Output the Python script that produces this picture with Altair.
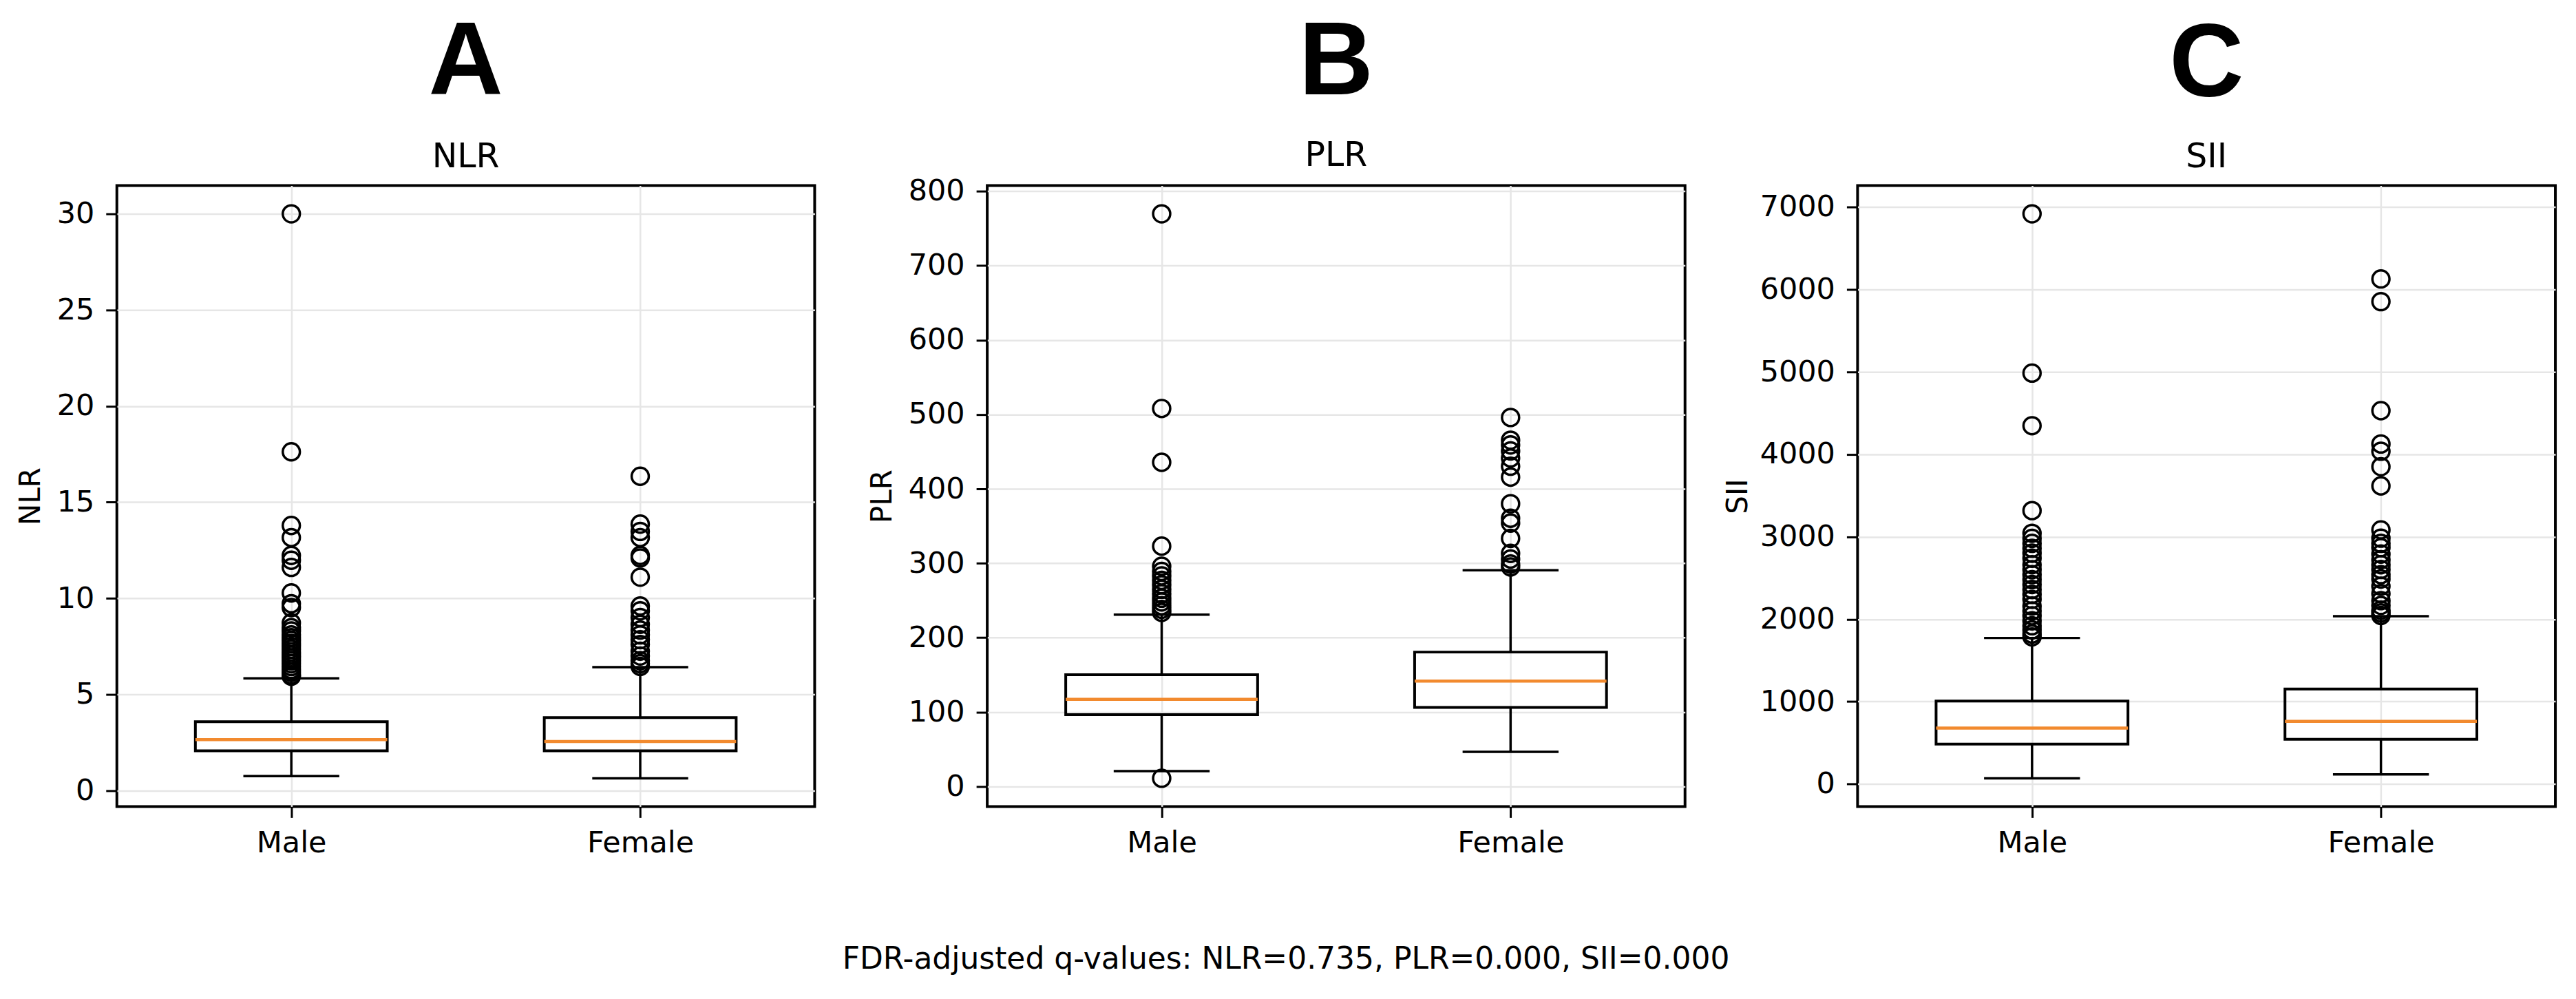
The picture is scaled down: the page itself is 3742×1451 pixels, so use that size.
import altair as alt
import pandas as pd

groups = ["Male", "Female"]
positions = [1, 2]

# ---- NLR ----
nlr_lo = [0.75, 0.64]
nlr_q1 = [2.07, 2.07]
nlr_med = [2.65, 2.55]
nlr_q3 = [3.58, 3.80]
nlr_hi = [5.84, 6.42]
nlr_out_male = [30.0, 17.62, 13.79, 13.16, 12.23, 11.98, 11.61, 10.28, 9.72, 9.52,
                8.72, 8.47, 8.3, 8.1, 7.95, 7.8, 7.65, 7.5, 7.35, 7.2, 7.05, 6.9,
                6.75, 6.6, 6.45, 6.3, 6.15, 6.02, 5.95]
nlr_out_female = [16.35, 13.86, 13.48, 13.16, 12.23, 12.1, 11.1, 9.6, 9.35, 9.0,
                  8.65, 8.35, 8.1, 7.85, 7.6, 7.25, 7.0, 6.75, 6.6, 6.46]
nlr_ticks = [0, 5, 10, 15, 20, 25, 30]

# ---- PLR ----
plr_lo = [20.7, 46.6]
plr_q1 = [96.4, 106.2]
plr_med = [117.1, 141.7]
plr_q3 = [150.1, 180.6]
plr_hi = [231.0, 290.6]
plr_out_male = [769.6, 508.0, 435.6, 323.0, 296.0, 289.0, 283.0, 277.0, 271.0,
                265.0, 259.0, 253.0, 248.0, 243.0, 238.0, 234.0, 11.0]
plr_out_female = [495.9, 465.4, 459.0, 451.0, 441.5, 430.4, 415.7, 380.0, 360.5,
                  354.0, 333.4, 313.3, 305.6, 299.0, 295.0]
plr_ticks = [0, 100, 200, 300, 400, 500, 600, 700, 800]

# ---- SII ----
sii_lo = [70, 117]
sii_q1 = [485, 543]
sii_med = [678, 760]
sii_q3 = [1006, 1152]
sii_hi = [1772, 2036]
sii_out_male = [6917, 4985, 4347, 3317, 3042, 2980, 2920, 2860, 2800, 2740, 2660,
                2600, 2540, 2480, 2420, 2360, 2300, 2240, 2160, 2100, 2040, 1980,
                1920, 1870, 1820, 1785]
sii_out_female = [6127, 5852, 4529, 4125, 4037, 3850, 3617, 3083, 2983, 2920, 2867,
                  2790, 2721, 2660, 2603, 2540, 2487, 2400, 2310, 2225, 2167, 2110,
                  2077, 2045]
sii_ticks = [0, 1000, 2000, 3000, 4000, 5000, 6000, 7000]

footnote = "FDR-adjusted q-values: NLR=0.735, PLR=0.000, SII=0.000"

ORANGE = "#f28a2e"
FONT = "DejaVu Sans"
PW, PH = 1015, 903
BOX_HALF = 0.275
CAP_HALF = 0.1375


def panel(letter, name, lo, q1, med, q3, hi, out_m, out_f, ticks, extent, sub_pad, tdy):
    stats = pd.DataFrame({"group": groups, "pos": positions, "lo": lo, "q1": q1,
                          "med": med, "q3": q3, "hi": hi})
    outs = pd.DataFrame({"group": ["Male"] * len(out_m) + ["Female"] * len(out_f),
                         "pos": [1] * len(out_m) + [2] * len(out_f),
                         "v": out_m + out_f})
    allv = lo + hi + out_m + out_f
    vmin, vmax = min(allv), max(allv)
    pad = 0.05 * (vmax - vmin)
    yscale = alt.Scale(domain=[vmin - pad, vmax + pad], nice=False, zero=False)
    yaxis = alt.Axis(values=ticks, title=name, format="d", minExtent=extent,
                     maxExtent=extent, titlePadding=0)
    xscale = alt.Scale(domain=[0.5, 2.5], nice=False, zero=False)
    xaxis = alt.Axis(title=None, values=positions, grid=True,
                     labelExpr="datum.value == 1 ? 'Male' : 'Female'")

    def X(f):
        return alt.X(f, scale=xscale, axis=xaxis)

    def Y(f):
        return alt.Y(f, scale=yscale, axis=yaxis)

    base = alt.Chart(stats).transform_calculate(
        bl=f"datum.pos - {BOX_HALF}", br=f"datum.pos + {BOX_HALF}",
        cl=f"datum.pos - {CAP_HALF}", cr=f"datum.pos + {CAP_HALF}")
    wl = base.mark_rule(color="black", strokeWidth=3.5).encode(
        x=X("pos:Q"), y=Y("lo:Q"), y2="q1:Q")
    wh = base.mark_rule(color="black", strokeWidth=3.5).encode(
        x=X("pos:Q"), y=Y("q3:Q"), y2="hi:Q")
    box = base.mark_rect(fillOpacity=0, fill="white", stroke="black", strokeWidth=4).encode(
        x=X("bl:Q"), x2="br:Q", y=Y("q1:Q"), y2="q3:Q")
    cap_l = base.mark_rule(color="black", strokeWidth=3.5).encode(
        x=X("cl:Q"), x2="cr:Q", y=Y("lo:Q"))
    cap_h = base.mark_rule(color="black", strokeWidth=3.5).encode(
        x=X("cl:Q"), x2="cr:Q", y=Y("hi:Q"))
    md = base.mark_rule(color=ORANGE, strokeWidth=4.5).encode(
        x=X("bl:Q"), x2="br:Q", y=Y("med:Q"))
    pts = alt.Chart(outs).mark_point(shape="circle", filled=False, size=620,
                                     stroke="black", strokeWidth=3.5, opacity=1).encode(
        x=X("pos:Q"), y=Y("v:Q"))
    return alt.layer(wl, wh, box, cap_l, cap_h, md, pts).properties(
        width=PW, height=PH,
        title=alt.TitleParams(text=letter, subtitle=name, anchor="middle",
                              font="Liberation Sans", fontSize=150, fontWeight="bold",
                              color="black", subtitleFont=FONT, subtitleFontSize=49,
                              subtitleColor="black", subtitlePadding=sub_pad,
                              offset=16, dy=tdy))


pa = panel("A", "NLR", nlr_lo, nlr_q1, nlr_med, nlr_q3, nlr_hi,
           nlr_out_male, nlr_out_female, nlr_ticks, 103, 37, 0)
pb = panel("B", "PLR", plr_lo, plr_q1, plr_med, plr_q3, plr_hi,
           plr_out_male, plr_out_female, plr_ticks, 131, 34, 11)
pc = panel("C", "SII", sii_lo, sii_q1, sii_med, sii_q3, sii_hi,
           sii_out_male, sii_out_female, sii_ticks, 152, 33, 0)

chart = alt.hconcat(pa, pb, pc, spacing=251, bounds="flush").properties(
    title=alt.TitleParams(text=footnote, orient="bottom", anchor="middle",
                          font=FONT, fontSize=44, fontWeight="normal", color="black",
                          offset=124, dx=0),
    padding={"left": 22, "top": 13, "right": 28, "bottom": 30},
    background="white",
).configure_view(stroke="black", strokeWidth=4).configure_axis(
    labelFont=FONT, labelFontSize=43, labelColor="black",
    titleFont=FONT, titleFontSize=42, titleFontWeight="normal", titleColor="black",
    tickColor="black", tickWidth=3, tickSize=16, domain=False,
    gridColor="#e6e6e6", gridWidth=2.5,
).configure_axisY(labelPadding=17).configure_axisX(labelPadding=16)

chart.save("out.html", embed_options={"renderer": "svg", "actions": False})
